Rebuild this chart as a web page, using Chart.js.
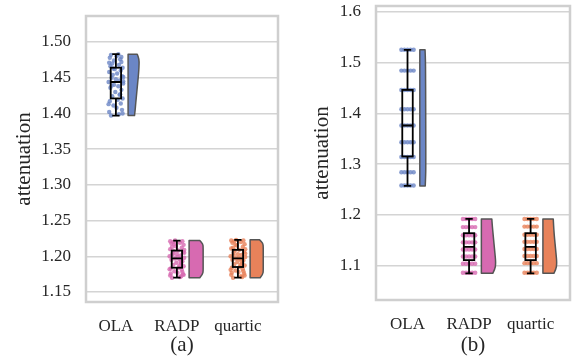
<!DOCTYPE html>
<html>
<head>
<meta charset="utf-8">
<script src="https://cdn.jsdelivr.net/npm/chart.js@4/dist/chart.umd.min.js"></script>
<style>
  html, body { margin: 0; padding: 0; background: #fff; }
  #wrap { position: relative; width: 574px; height: 358px; }
  canvas { position: absolute; top: 0; }
</style>
</head>
<body>
<div id="wrap">
  <canvas id="chartA" width="290" height="358" style="left:0;width:290px;height:358px"></canvas>
  <canvas id="chartB" width="284" height="358" style="left:290px;width:284px;height:358px"></canvas>
</div>
<script>
// categories and colours
const categories = ['OLA', 'RADP', 'quartic'];
const colors = ['#6b86c6', '#d76ab1', '#e8825a'];
const dotColors = ['rgba(107,134,198,0.8)', 'rgba(215,106,177,0.8)', 'rgba(232,130,90,0.8)'];

// y tick labels
const yTicksA = [1.15, 1.20, 1.25, 1.30, 1.35, 1.40, 1.45, 1.50];
const yTicksB = [1.1, 1.2, 1.3, 1.4, 1.5, 1.6];

// panel (a) samples
const olaA = [1.397, 1.399, 1.402, 1.405, 1.408, 1.411, 1.414, 1.417, 1.419, 1.421,
  1.424, 1.427, 1.430, 1.433, 1.436, 1.438, 1.440, 1.442, 1.444, 1.446,
  1.448, 1.450, 1.452, 1.454, 1.456, 1.458, 1.460, 1.462, 1.464, 1.466,
  1.468, 1.470, 1.472, 1.474, 1.476, 1.478, 1.480, 1.482, 1.483, 1.445,
  1.400, 1.413, 1.426, 1.439, 1.451, 1.463, 1.471, 1.479];
const radpA = [1.170, 1.171, 1.173, 1.175, 1.177, 1.179, 1.181, 1.183, 1.184, 1.186,
  1.188, 1.190, 1.191, 1.193, 1.195, 1.196, 1.197, 1.198, 1.200, 1.201,
  1.203, 1.204, 1.206, 1.207, 1.208, 1.210, 1.212, 1.214, 1.216, 1.218,
  1.219, 1.220, 1.221, 1.222, 1.172, 1.176, 1.199, 1.213, 1.187, 1.205,
  1.174, 1.182, 1.192, 1.202, 1.209, 1.217, 1.221, 1.178];
const quarticA = [1.170, 1.172, 1.174, 1.176, 1.178, 1.180, 1.182, 1.184, 1.185, 1.187,
  1.189, 1.190, 1.192, 1.194, 1.195, 1.196, 1.197, 1.199, 1.200, 1.202,
  1.203, 1.205, 1.206, 1.208, 1.209, 1.211, 1.213, 1.215, 1.217, 1.219,
  1.220, 1.221, 1.222, 1.223, 1.171, 1.177, 1.198, 1.212, 1.188, 1.204,
  1.173, 1.181, 1.193, 1.201, 1.210, 1.216, 1.222, 1.179];
const jitterA = [-0.08, 0.05, -0.11, 0.10, 0.01, -0.04, 0.08, -0.10, 0.03, 0.11,
  -0.06, 0.07, -0.01, 0.09, -0.09, 0.04, -0.03, 0.12, -0.12, 0.06,
  0.00, -0.07, 0.10, -0.05, 0.02, -0.11, 0.08, -0.02, 0.11, -0.09,
  0.05, -0.06, 0.09, -0.03, 0.07, -0.10, 0.01, -0.08, 0.04, 0.12,
  0.11, -0.12, 0.06, -0.07, 0.12, -0.04, -0.11, 0.09];

// panel (b) samples sit on discrete levels
const olaLevelsB = [1.525, 1.484, 1.446, 1.408, 1.376, 1.343, 1.314, 1.284, 1.258];
const radpLevelsB = [1.192, 1.176, 1.160, 1.146, 1.132, 1.118, 1.104, 1.086];
const quarticLevelsB = [1.192, 1.177, 1.161, 1.147, 1.133, 1.119, 1.105, 1.086];
const jitterB = [-0.10, -0.05, 0.0, 0.05, 0.10];

// box stats: min, q1, median, q3, max
const boxA = [[1.397, 1.421, 1.444, 1.464, 1.483], [1.170, 1.184, 1.197, 1.208, 1.222], [1.170, 1.185, 1.197, 1.209, 1.223]];
const boxB = [[1.257, 1.315, 1.376, 1.446, 1.525], [1.085, 1.111, 1.137, 1.164, 1.192], [1.085, 1.111, 1.137, 1.164, 1.192]];

// half violin widths (category units), bottom to top
const violinA = [
  [0.105, 0.115, 0.122, 0.130, 0.138, 0.146, 0.154, 0.162, 0.170, 0.176, 0.180, 0.180, 0.150],
  [0.175, 0.222, 0.230, 0.230, 0.230, 0.230, 0.230, 0.230, 0.230, 0.230, 0.226, 0.175],
  [0.165, 0.210, 0.215, 0.215, 0.215, 0.215, 0.215, 0.215, 0.215, 0.215, 0.210, 0.155]
];
const violinB = [
  [0.088, 0.096, 0.097, 0.097, 0.097, 0.096, 0.096, 0.095, 0.095, 0.094, 0.093, 0.092, 0.085],
  [0.185, 0.222, 0.232, 0.230, 0.223, 0.216, 0.209, 0.202, 0.195, 0.188, 0.181, 0.175, 0.170],
  [0.178, 0.214, 0.224, 0.222, 0.215, 0.208, 0.201, 0.194, 0.187, 0.181, 0.176, 0.172, 0.168]
];

Chart.defaults.font.family = "'Liberation Serif', 'Times New Roman', serif";
Chart.defaults.color = '#262626';

function pointsFromValues(vals, idx) {
  return vals.map((v, i) => ({ x: idx + jitterA[i % jitterA.length], y: v }));
}
function pointsFromLevels(levels, idx) {
  const out = [];
  levels.forEach(v => jitterB.forEach(j => out.push({ x: idx + j, y: v })));
  return out;
}

// draws half violins, box plots and the frame through the chart scales
const boxViolin = {
  id: 'boxViolin',
  beforeDatasetsDraw(chart, args, opts) {
    const { ctx, scales: { x, y } } = chart;
    ctx.save();
    opts.violins.forEach((w, i) => {
      const lo = opts.boxes[i][0], hi = opts.boxes[i][4];
      const x0 = x.getPixelForValue(i + opts.gap);
      const pts = w.map((ww, k) => ({
        x: x.getPixelForValue(i + opts.gap + ww),
        y: y.getPixelForValue(lo + (hi - lo) * k / (w.length - 1))
      }));
      ctx.beginPath();
      ctx.moveTo(x0, pts[0].y);
      ctx.lineTo(pts[0].x, pts[0].y);
      for (let k = 1; k < pts.length - 1; k++) {
        const mx = (pts[k].x + pts[k + 1].x) / 2, my = (pts[k].y + pts[k + 1].y) / 2;
        ctx.quadraticCurveTo(pts[k].x, pts[k].y, mx, my);
      }
      ctx.lineTo(pts[pts.length - 1].x, pts[pts.length - 1].y);
      ctx.lineTo(x0, pts[pts.length - 1].y);
      ctx.closePath();
      ctx.fillStyle = colors[i];
      ctx.fill();
      ctx.lineWidth = 1.5;
      ctx.lineJoin = 'round';
      ctx.strokeStyle = '#555';
      ctx.stroke();
    });
    ctx.restore();
  },
  afterDatasetsDraw(chart, args, opts) {
    const { ctx, chartArea: a, scales: { x, y } } = chart;
    ctx.save();
    ctx.strokeStyle = '#000';
    ctx.lineWidth = 1.8;
    opts.boxes.forEach((s, i) => {
      const cx = x.getPixelForValue(i);
      const bl = x.getPixelForValue(i - 0.085), br = x.getPixelForValue(i + 0.085);
      const cl = x.getPixelForValue(i - 0.06), cr = x.getPixelForValue(i + 0.06);
      const [ymin, yq1, ymed, yq3, ymax] = s.map(v => y.getPixelForValue(v));
      ctx.beginPath();
      ctx.moveTo(cx, ymax); ctx.lineTo(cx, yq3);
      ctx.moveTo(cx, yq1); ctx.lineTo(cx, ymin);
      ctx.moveTo(cl, ymax); ctx.lineTo(cr, ymax);
      ctx.moveTo(cl, ymin); ctx.lineTo(cr, ymin);
      ctx.moveTo(bl, ymed); ctx.lineTo(br, ymed);
      ctx.stroke();
      ctx.strokeRect(bl, yq3, br - bl, yq1 - yq3);
    });
    // plot frame
    ctx.strokeStyle = '#cfcfcf';
    ctx.lineWidth = 2.5;
    ctx.strokeRect(a.left, a.top, a.right - a.left, a.bottom - a.top);
    ctx.restore();
  }
};

function makeChart(id, cfg) {
  return new Chart(document.getElementById(id), {
    type: 'scatter',
    data: {
      datasets: cfg.points.map((p, i) => ({
        data: p,
        backgroundColor: dotColors[i],
        borderWidth: 0,
        pointRadius: 2.2
      }))
    },
    options: {
      responsive: false,
      animation: false,
      events: [],
      layout: { padding: { top: cfg.top, right: cfg.right, left: 0, bottom: 0 } },
      plugins: {
        legend: { display: false },
        tooltip: { enabled: false },
        boxViolin: { boxes: cfg.boxes, violins: cfg.violins, gap: cfg.gap }
      },
      scales: {
        x: {
          type: 'linear',
          min: cfg.xMin, max: cfg.xMax,
          afterBuildTicks: s => { s.ticks = categories.map((c, i) => ({ value: i })); },
          afterFit: s => { s.height = cfg.xHeight; s.paddingLeft = 0; s.paddingRight = 0; },
          ticks: { callback: v => categories[v], font: { size: 17 }, padding: 14, maxRotation: 0 },
          grid: { display: false, drawTicks: false },
          border: { display: false },
          title: { display: true, text: cfg.caption, font: { size: 21 }, padding: { top: 0, bottom: 0 } }
        },
        y: {
          min: cfg.yMin, max: cfg.yMax,
          afterBuildTicks: s => { s.ticks = cfg.yTicks.map(v => ({ value: v })); },
          afterFit: s => { s.width = 86; s.paddingTop = 0; s.paddingBottom = 0; },
          ticks: { callback: v => v.toFixed(cfg.decimals), font: { size: 17 }, padding: 15 },
          grid: { color: '#d4d4d4', lineWidth: 1.5, drawTicks: false },
          border: { display: false },
          title: { display: true, text: 'attenuation', font: { size: 21 }, padding: { top: cfg.titlePad, bottom: 0 } }
        }
      }
    },
    plugins: [boxViolin]
  });
}

makeChart('chartA', {
  points: [pointsFromValues(olaA, 0), pointsFromValues(radpA, 1), pointsFromValues(quarticA, 2)],
  boxes: boxA, violins: violinA, gap: 0.2,
  xMin: -0.49, xMax: 2.657, yMin: 1.136, yMax: 1.5364,
  yTicks: yTicksA, decimals: 2,
  top: 16, right: 12, xHeight: 56, titlePad: 12, caption: '(a)'
});

makeChart('chartB', {
  points: [pointsFromLevels(olaLevelsB, 0), pointsFromLevels(radpLevelsB, 1), pointsFromLevels(quarticLevelsB, 2)],
  boxes: boxB, violins: violinB, gap: 0.2,
  xMin: -0.512, xMax: 2.64, yMin: 1.0325, yMax: 1.6112,
  yTicks: yTicksB, decimals: 1,
  top: 6, right: 1, xHeight: 58, titlePad: 20, caption: '(b)'
});
</script>
</body>
</html>
